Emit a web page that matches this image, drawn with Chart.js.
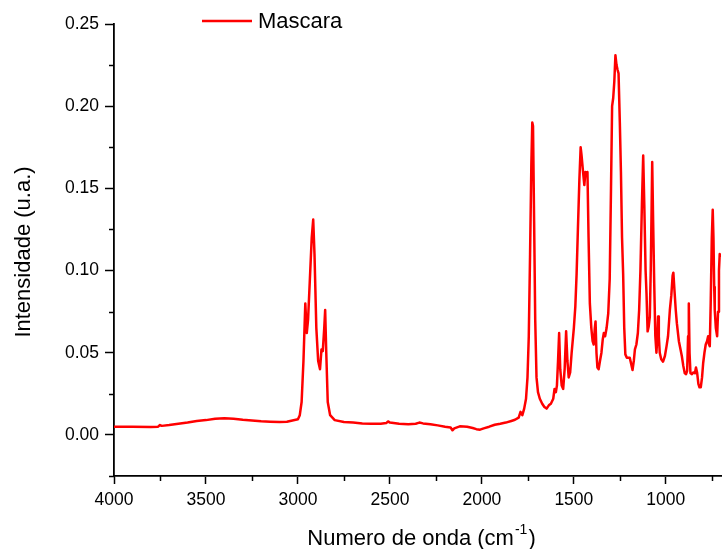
<!DOCTYPE html>
<html>
<head>
<meta charset="utf-8">
<script src="https://cdn.jsdelivr.net/npm/chart.js@4.4.1/dist/chart.umd.min.js"></script>
<style>
  html, body { margin: 0; padding: 0; background: #fff; }
  #wrap { width: 722px; height: 549px; }
</style>
</head>
<body>
<div id="wrap"><canvas id="spectre" width="722" height="549"></canvas></div>
<script>
// espectro FTIR - Mascara
const numeroOnda = [
  4000, 3900, 3800, 3760, 3750, 3740, 3700, 3650, 3600, 3550, 3500, 3450, 3400, 3350, 3300, 3250,
  3200, 3150, 3100, 3060, 3030, 3000, 2990, 2980, 2970, 2960, 2952, 2945, 2935, 2925, 2917, 2910,
  2900, 2890, 2880, 2872, 2865, 2857, 2852, 2846, 2838, 2825, 2800, 2750, 2700, 2650, 2600, 2550,
  2520, 2510, 2500, 2450, 2400, 2360, 2340, 2320, 2280, 2240, 2200, 2170, 2160, 2150, 2120, 2080,
  2050, 2030, 2010, 1990, 1960, 1930, 1900, 1870, 1840, 1820, 1800, 1790, 1780, 1770, 1760, 1752,
  1745, 1738, 1731, 1726, 1722, 1716, 1710, 1703, 1695, 1685, 1672, 1660, 1648, 1636, 1625, 1612,
  1605, 1598, 1592, 1586, 1580, 1574, 1566, 1558, 1550, 1542, 1535, 1528, 1520, 1512, 1500, 1492,
  1485, 1478, 1470, 1463, 1458, 1450, 1443, 1437, 1431, 1426, 1420, 1413, 1405, 1398, 1392, 1386,
  1382, 1377, 1372, 1365, 1358, 1350, 1343, 1337, 1330, 1322, 1313, 1305, 1298, 1292, 1286, 1280,
  1274, 1268, 1262, 1257, 1250, 1244, 1238, 1232, 1226, 1220, 1212, 1204, 1196, 1188, 1181, 1174,
  1168, 1160, 1152, 1145, 1138, 1130, 1123, 1117, 1110, 1105, 1099, 1093, 1087, 1082, 1077, 1074,
  1069, 1063, 1057, 1051, 1046, 1042, 1038, 1033, 1025, 1015, 1005, 996, 988, 978, 970, 963,
  959, 953, 946, 940, 929, 920, 913, 905, 897, 890, 884, 879, 875, 871, 866, 858,
  850, 842, 836, 830, 823, 817, 810, 803, 797, 790, 783, 776, 770, 765, 761, 756,
  750, 745, 741, 737, 734, 728, 721, 716, 711, 707, 702
]
const intensidade = [
  0.005, 0.005, 0.0048, 0.005, 0.006, 0.0055, 0.006, 0.0068, 0.0075, 0.0085, 0.009, 0.0098, 0.0102, 0.0098, 0.0092, 0.0088,
  0.0083, 0.008, 0.0078, 0.008, 0.0088, 0.0095, 0.012, 0.02, 0.045, 0.080, 0.062, 0.07, 0.095, 0.12, 0.131, 0.11,
  0.065, 0.045, 0.04, 0.052, 0.051, 0.065, 0.076, 0.05, 0.02, 0.012, 0.009, 0.0078, 0.0075, 0.007, 0.0068, 0.0068,
  0.0072, 0.0082, 0.0075, 0.0068, 0.0065, 0.0068, 0.0075, 0.007, 0.0065, 0.0058, 0.005, 0.0045, 0.0028, 0.004, 0.0052, 0.005,
  0.0042, 0.0035, 0.0032, 0.004, 0.005, 0.0062, 0.0068, 0.0075, 0.0085, 0.0092, 0.0105, 0.014, 0.012, 0.016, 0.022, 0.035,
  0.06, 0.11, 0.165, 0.19, 0.188, 0.13, 0.07, 0.035, 0.026, 0.022, 0.019, 0.017, 0.016, 0.018, 0.019, 0.022,
  0.028, 0.026, 0.03, 0.045, 0.062, 0.04, 0.03, 0.028, 0.04, 0.063, 0.045, 0.035, 0.038, 0.05, 0.065, 0.078,
  0.098, 0.125, 0.155, 0.175, 0.17, 0.16, 0.152, 0.16, 0.158, 0.16, 0.12, 0.08, 0.065, 0.057, 0.055, 0.065,
  0.069, 0.05, 0.041, 0.04, 0.045, 0.05, 0.058, 0.062, 0.06, 0.065, 0.074, 0.095, 0.15, 0.2, 0.205, 0.215,
  0.231, 0.225, 0.222, 0.22, 0.19, 0.16, 0.12, 0.098, 0.065, 0.049, 0.047, 0.047, 0.047, 0.043, 0.0395, 0.045,
  0.052, 0.055, 0.062, 0.076, 0.1, 0.14, 0.17, 0.14, 0.1, 0.086, 0.063, 0.066, 0.072, 0.1, 0.14, 0.166,
  0.13, 0.092, 0.06, 0.05, 0.06, 0.072, 0.06, 0.05, 0.046, 0.0446, 0.048, 0.054, 0.06, 0.076, 0.085, 0.097,
  0.0987, 0.088, 0.076, 0.068, 0.057, 0.052, 0.048, 0.042, 0.0375, 0.037, 0.039, 0.06, 0.08, 0.05, 0.0375, 0.037,
  0.038, 0.0375, 0.041, 0.038, 0.031, 0.029, 0.029, 0.035, 0.0436, 0.05, 0.055, 0.057, 0.06, 0.055, 0.054, 0.08,
  0.12, 0.137, 0.12, 0.09, 0.076, 0.065, 0.06, 0.075, 0.1, 0.11, 0.108
]

const ticksX = [4000, 3500, 3000, 2500, 2000, 1500, 1000]
const ticksXMenores = [3750, 3250, 2750, 2250, 1750, 1250, 750]
const ticksY = [0.00, 0.05, 0.10, 0.15, 0.20, 0.25]
const ticksYMenores = [-0.025, 0.025, 0.075, 0.125, 0.175, 0.225]

const nomeSerie = "Mascara"
const tituloY = "Intensidade (u.a.)"
const tituloX = "Numero de onda (cm"
const expoenteX = "-1"

const FONTE = "'Liberation Sans', Arial, sans-serif"

const pontos = numeroOnda.map((x, i) => ({x: x, y: intensidade[i]}))

// ticks menores + titulos dos eixos + legenda
const extras = {
  id: 'extras',
  afterDraw(chart) {
    const ctx = chart.ctx
    const sx = chart.scales.x
    const sy = chart.scales.y
    const area = chart.chartArea
    ctx.save()
    ctx.strokeStyle = '#000'
    ctx.lineWidth = 1.5
    for (const v of ticksXMenores) {
      const px = Math.round(sx.getPixelForValue(v)) + 0.5
      ctx.beginPath()
      ctx.moveTo(px, area.bottom)
      ctx.lineTo(px, area.bottom + 5)
      ctx.stroke()
    }
    for (const v of ticksYMenores) {
      const py = Math.round(sy.getPixelForValue(v)) + 0.5
      ctx.beginPath()
      ctx.moveTo(area.left, py)
      ctx.lineTo(area.left - 5, py)
      ctx.stroke()
    }

    // titulo eixo Y
    ctx.fillStyle = '#000'
    ctx.font = '22px ' + FONTE
    ctx.save()
    ctx.translate(24, (area.top + area.bottom) / 2 + 2)
    ctx.rotate(-Math.PI / 2)
    ctx.textAlign = 'center'
    ctx.textBaseline = 'middle'
    ctx.fillText(tituloY, 0, 0)
    ctx.restore()

    // titulo eixo X com expoente
    ctx.font = '22px ' + FONTE
    const w1 = ctx.measureText(tituloX).width
    ctx.font = '14px ' + FONTE
    const w2 = ctx.measureText(expoenteX).width
    ctx.font = '22px ' + FONTE
    const w3 = ctx.measureText(')').width
    const total = w1 + w2 + w3 + 2
    let x0 = (area.left + area.right) / 2 - total / 2 + 4
    const base = 545
    ctx.textAlign = 'left'
    ctx.textBaseline = 'alphabetic'
    ctx.fillText(tituloX, x0, base)
    ctx.font = '14px ' + FONTE
    ctx.fillText(expoenteX, x0 + w1 + 1, base - 11)
    ctx.font = '22px ' + FONTE
    ctx.fillText(')', x0 + w1 + w2 + 2, base)

    // legenda
    ctx.strokeStyle = '#ff0000'
    ctx.lineWidth = 2.5
    ctx.beginPath()
    ctx.moveTo(202, 21)
    ctx.lineTo(252, 21)
    ctx.stroke()
    ctx.font = '22px ' + FONTE
    ctx.textBaseline = 'middle'
    ctx.fillText(nomeSerie, 258, 22)
    ctx.restore()
  }
}

const config = {
  type: 'line',
  data: {
    datasets: [{
      label: nomeSerie,
      data: pontos,
      borderColor: '#ff0000',
      borderWidth: 2.5,
      borderJoinStyle: 'round',
      pointRadius: 0,
      tension: 0,
      fill: false
    }]
  },
  options: {
    responsive: false,
    animation: false,
    devicePixelRatio: 1,
    layout: {padding: {left: 0, right: 1, top: 24, bottom: 0}},
    plugins: {
      legend: {display: false},
      tooltip: {enabled: false}
    },
    scales: {
      x: {
        type: 'linear',
        reverse: true,
        min: 700,
        max: 4000,
        afterFit: (s) => { s.height = 73 },
        afterBuildTicks: (s) => { s.ticks = ticksX.map(v => ({value: v})) },
        grid: {drawOnChartArea: false, tickLength: 8, tickWidth: 1.5, tickColor: '#000'},
        border: {color: '#000', width: 1.8},
        ticks: {
          color: '#000',
          padding: 6,
          maxRotation: 0,
          font: {family: FONTE, size: 17.5},
          callback: (v) => String(v)
        }
      },
      y: {
        min: -0.025,
        max: 0.25,
        afterFit: (s) => { s.width = 114 },
        afterBuildTicks: (s) => { s.ticks = ticksY.map(v => ({value: v})) },
        grid: {drawOnChartArea: false, tickLength: 9, tickWidth: 1.5, tickColor: '#000'},
        border: {color: '#000', width: 1.8},
        ticks: {
          color: '#000',
          padding: 6,
          font: {family: FONTE, size: 17.5},
          callback: (v) => Number(v).toFixed(2)
        }
      }
    }
  },
  plugins: [extras]
}

const myChart = new Chart(document.getElementById('spectre'), config)
</script>
</body>
</html>
